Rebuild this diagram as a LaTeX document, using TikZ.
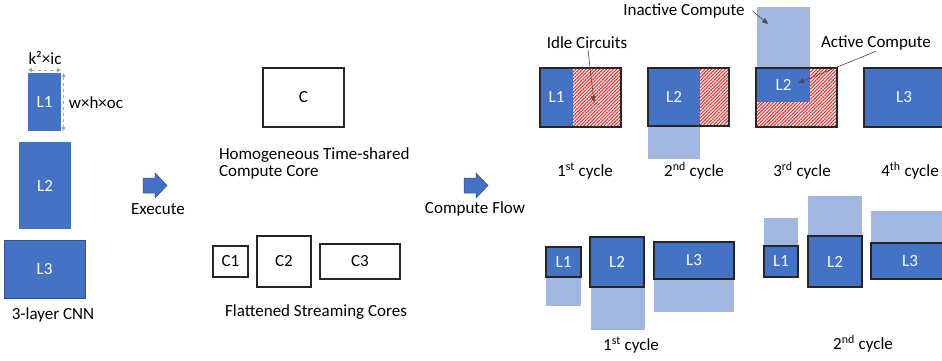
\documentclass[tikz,border=0pt]{standalone}
\usepackage{fontspec}
\setmainfont{Carlito}
\usetikzlibrary{patterns.meta,arrows.meta}
\definecolor{blu}{HTML}{4472C4}
\definecolor{dblu}{HTML}{2F528F}
\definecolor{lblu}{HTML}{A1B7E1}
\definecolor{dgray}{HTML}{A6A6A6}
\definecolor{hred}{HTML}{F03030}
\begin{document}
\begin{tikzpicture}[x=1pt,y=-1pt,
  font=\fontsize{17}{17}\selectfont,
  every node/.style={inner sep=0pt, outer sep=0pt},
  nw/.style={anchor=north west},
  wh/.style 2 args={minimum width=#1, minimum height=#2},
  layer/.style={nw, fill=blu, text=white},
  inact/.style={nw, fill=lblu},
  idle/.style={nw, fill=white, pattern={Lines[angle=45,distance=2.4pt,line width=1.1pt]}, pattern color=hred},
  frame/.style={draw=black!85, line width=1.6pt},
  core/.style={nw, draw=black!85, line width=1.4pt},
  lay3/.style={layer, draw=black!85, line width=1.6pt},
  txt/.style={text=black},
  dim/.style={draw=dgray, dashed, line width=1pt, {Triangle[length=4pt,width=4pt]}-{Triangle[length=4pt,width=4pt]}},
  note/.style={draw=black!70, line width=0.6pt, -{Triangle[length=6pt,width=5pt]}},
  blockarrow/.style={fill=blu, draw=dblu, line width=0.5pt}
]
\useasboundingbox (0,0) rectangle (942,360);
\clip (0,0) rectangle (942,360);
\fill[white] (0,0) rectangle (942,360);

% ---------- left: 3-layer CNN ----------
\node[txt] (kic) at (45,58) {k²×ic};
\node[layer, wh={33}{58}] (L1) at (28,73) {L1};
\draw[dim] ([yshift=3pt]L1.north west) -- ([yshift=3pt]L1.north east);
\draw[dim] ([xshift=2.5pt]L1.north east) -- ([xshift=2.5pt]L1.south east);
\node[txt] (whoc) at (96,103) {w×h×oc};
\node[layer, wh={52}{87}] (L2) at (19,142) {L2};
\node[layer, draw=dblu, line width=0.8pt, wh={81}{58}] (L3) at (4,240) {L3};
\node[txt] (cnn) at (53,315) {3-layer CNN};

% ---------- execute arrow ----------
\draw[blockarrow] (143,178) -- (155,178) -- (155,173) -- (167,185.5) -- (155,198) -- (155,193) -- (143,193) -- cycle;
\node[txt] (exec) at (158,209) {Execute};

% ---------- middle: cores ----------
\node[core, wh={81}{59}] (C) at (263,68) {C};
\node[txt, anchor=north west, align=left] (homog) at (219,148) {Homogeneous Time-shared\\Compute Core};
\node[core, wh={35}{31}] (C1) at (213,246) {C1};
\node[core, wh={54}{51}] (C2) at (257,236) {C2};
\node[core, wh={80}{35}] (C3) at (320,244) {C3};
\node[txt] (flat) at (316,312) {Flattened Streaming Cores};

% ---------- compute flow arrow ----------
\draw[blockarrow] (464,178) -- (476,178) -- (476,173) -- (488,185.5) -- (476,198) -- (476,193) -- (464,193) -- cycle;
\node[txt] (cflow) at (475,209) {Compute Flow};

% ---------- right top: time-shared cycles ----------
% cycle 1
\node[layer, wh={33}{59}] (t1a) at (540,68) {L1};
\node[idle, wh={48}{59}] (t1i) at (573,68) {};
\draw[frame] (t1a.north west) rectangle (t1i.south east);
% cycle 2
\node[inact, wh={52}{33}] (t2n) at (648,126) {};
\node[layer, wh={52}{58}] (t2a) at (648,68) {L2};
\node[idle, wh={29}{58}] (t2i) at (700,68) {};
\draw[frame] (t2a.north west) rectangle (t2i.south east);
% cycle 3
\node[inact, wh={53}{61}] (t3n) at (757,7) {};
\node[idle, wh={81}{59}] (t3i) at (756,68) {};
\node[layer, wh={53}{34}] (t3a) at (757,68) {L2};
\draw[frame] (t3i.north west) rectangle (t3i.south east);
% cycle 4
\node[layer, wh={80}{59}] (t4a) at (864,68) {L3};
\draw[frame] (t4a.north west) rectangle (t4a.south east);

\node[txt] (inactlbl) at (684,11) {Inactive Compute};
\coordinate (inactpt) at (768,24);
\draw[note] ([xshift=8pt]inactlbl.east) -- (inactpt);
\node[txt] (idlelbl) at (587,43) {Idle Circuits};
\coordinate (idlept) at (594,102);
\draw[note] ([xshift=1pt,yshift=-1pt]idlelbl.south) -- (idlept);
\node[txt] (actlbl) at (876,43) {Active Compute};
\coordinate (actpt) at (798,83);
\draw[note] ([yshift=-1pt]actlbl.south) -- (actpt);

\node[txt] (cy1) at (585,171) {1\textsuperscript{st} cycle};
\node[txt] (cy2) at (694,171) {2\textsuperscript{nd} cycle};
\node[txt] (cy3) at (802,171) {3\textsuperscript{rd} cycle};
\node[txt] (cy4) at (910,171) {4\textsuperscript{th} cycle};

% ---------- right bottom: streaming cycles ----------
\node[inact, wh={35}{29}] (s1n1) at (546,277) {};
\node[lay3, wh={35}{30}] (s1a1) at (546,247) {L1};
\node[inact, wh={54}{43}] (s1n2) at (591,287) {};
\node[lay3, wh={54}{50}] (s1a2) at (590,237) {L2};
\node[inact, wh={80}{33}] (s1n3) at (654,279) {};
\node[lay3, wh={80}{37}] (s1a3) at (654,242) {L3};
\node[txt] (scy1) at (631,345) {1\textsuperscript{st} cycle};

\node[inact, wh={34}{28}] (s2n1) at (764,218) {};
\node[lay3, wh={34}{31}] (s2a1) at (764,246) {L1};
\node[inact, wh={54}{40}] (s2n2) at (808,196) {};
\node[lay3, wh={54}{51}] (s2a2) at (808,236) {L2};
\node[inact, wh={78}{32}] (s2n3) at (871,211) {};
\node[lay3, wh={78}{36}] (s2a3) at (871,243) {L3};
\node[txt] (scy2) at (863,344) {2\textsuperscript{nd} cycle};
\end{tikzpicture}
\end{document}
